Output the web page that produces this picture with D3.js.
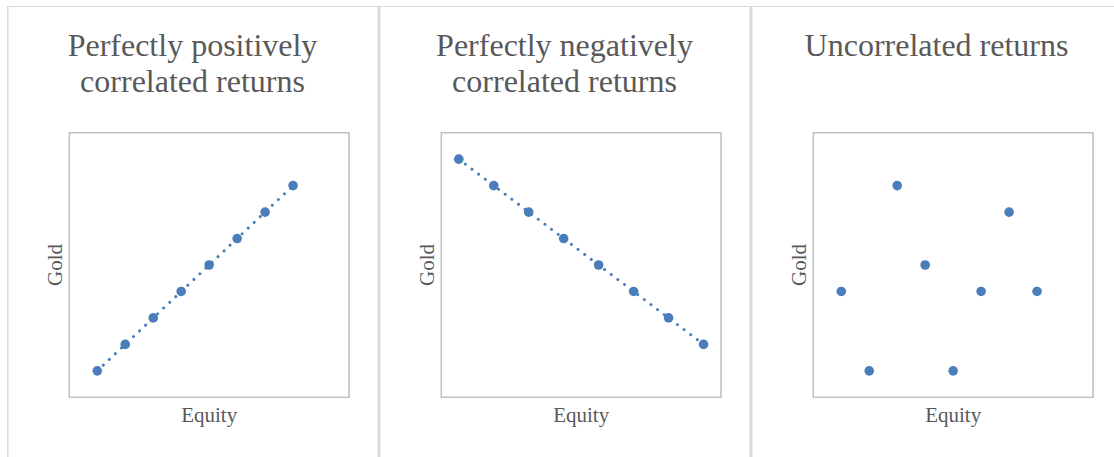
<!DOCTYPE html>
<html>
<head>
<meta charset="utf-8">
<script src="https://cdn.jsdelivr.net/npm/d3@7"></script>
<style>
  html, body { margin: 0; padding: 0; background: #fff; }
  svg { display: block; }
</style>
</head>
<body>
<svg id="chart" width="1114" height="457"></svg>
<script>
// ---- data ----
const titles = [
  ["Perfectly positively", "correlated returns"],
  ["Perfectly negatively", "correlated returns"],
  ["Uncorrelated returns"]
];
const xLabel = "Equity";
const yLabel = "Gold";

const posX = [1, 2, 3, 4, 5, 6, 7, 8];
const posY = [1, 2, 3, 4, 5, 6, 7, 8];

const negX = [0.5, 1.5, 2.5, 3.5, 4.5, 5.5, 6.5, 7.5];
const negY = [9, 8, 7, 6, 5, 4, 3, 2];

const uncX = [1, 2, 3, 4, 5, 6, 7, 8];
const uncY = [4, 1, 8, 5, 1, 4, 7, 4];

const xDomains = [[0, 10], [0, 8], [0, 10]];
const yDomains = [[0, 10], [0, 10], [0, 10]];
const trend = [true, true, false];

// ---- layout ----
const svg = d3.select("#chart");
const panelLeft = [8, 380, 752];
const panelW = 370;
const boxOffX = 61.3, boxW = 279.7;
const boxTop = 132.7, boxH = 264.6;
const markerColor = "#4a7ebb";
const textColor = "#595959";
const font = "'Liberation Serif', 'Times New Roman', Times, serif";

// outer frame lines
svg.append("line").attr("x1", 7).attr("x2", 1114).attr("y1", 6.5).attr("y2", 6.5)
  .attr("stroke", "#d9d9d9").attr("stroke-width", 1);
svg.append("line").attr("x1", 7.8).attr("x2", 7.8).attr("y1", 6).attr("y2", 457)
  .attr("stroke", "#d9d9d9").attr("stroke-width", 1.5);
[379, 751].forEach(x => {
  svg.append("line").attr("x1", x).attr("x2", x).attr("y1", 6).attr("y2", 457)
    .attr("stroke", "#d9d9d9").attr("stroke-width", 3);
});

const datasets = [
  posX.map((x, i) => ({x, y: posY[i]})),
  negX.map((x, i) => ({x, y: negY[i]})),
  uncX.map((x, i) => ({x, y: uncY[i]}))
];

datasets.forEach((data, k) => {
  const pl = panelLeft[k];
  const g = svg.append("g");
  const bx = pl + boxOffX;

  // title
  const t = g.append("text")
    .attr("x", pl + panelW / 2 - 0.5)
    .attr("text-anchor", "middle")
    .attr("font-family", font)
    .attr("font-size", 32)
    .attr("fill", textColor);
  titles[k].forEach((line, j) => {
    t.append("tspan").attr("x", pl + panelW / 2 - 0.5).attr("y", 56 + j * 36).text(line);
  });

  const x = d3.scaleLinear().domain(xDomains[k]).range([bx, bx + boxW]);
  const y = d3.scaleLinear().domain(yDomains[k]).range([boxTop + boxH, boxTop]);

  // plot box
  g.append("rect")
    .attr("x", bx).attr("y", boxTop).attr("width", boxW).attr("height", boxH)
    .attr("fill", "none").attr("stroke", "#bfbfbf").attr("stroke-width", 1.5);

  // trend line
  if (trend[k]) {
    g.append("path")
      .datum(data)
      .attr("d", d3.line().x(d => x(d.x)).y(d => y(d.y)))
      .attr("fill", "none")
      .attr("stroke", markerColor)
      .attr("stroke-width", 3)
      .attr("stroke-linecap", "round")
      .attr("stroke-dasharray", "0.01 8.3");
  }

  // markers
  g.selectAll("circle.pt").data(data).enter().append("circle")
    .attr("class", "pt")
    .attr("cx", d => x(d.x)).attr("cy", d => y(d.y))
    .attr("r", 4.8)
    .attr("fill", markerColor);

  // axis titles
  g.append("text")
    .attr("x", bx + boxW / 2).attr("y", 422)
    .attr("text-anchor", "middle")
    .attr("font-family", font).attr("font-size", 21)
    .attr("fill", textColor).text(xLabel);

  const gx = bx - 7, gy = boxTop + boxH / 2;
  g.append("text")
    .attr("transform", `translate(${gx},${gy}) rotate(-90)`)
    .attr("text-anchor", "middle")
    .attr("font-family", font).attr("font-size", 21)
    .attr("fill", textColor).text(yLabel);
});
</script>
</body>
</html>
